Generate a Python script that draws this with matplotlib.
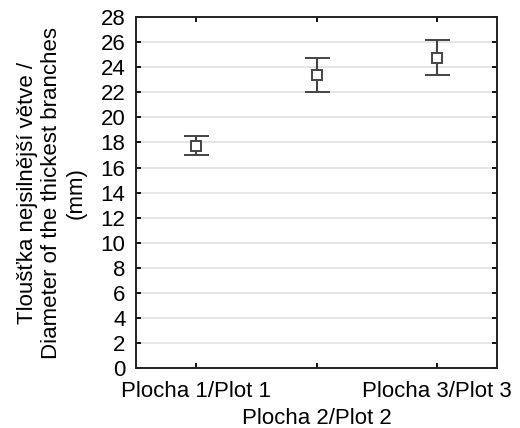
import matplotlib
matplotlib.use("Agg")
import matplotlib.pyplot as plt
import numpy as np

plt.rcParams['font.family'] = ['Liberation Sans', 'DejaVu Sans']

categories = ["Plocha 1/Plot 1", "Plocha 2/Plot 2", "Plocha 3/Plot 3"]
means = [17.75, 23.35, 24.75]
upper = [18.55, 24.7, 26.2]
lower = [17.0, 22.0, 23.35]
yticks = list(range(0, 29, 2))

fig = plt.figure(figsize=(5.2, 4.28), dpi=100)
ax = fig.add_axes([0.2615, 0.14, 0.6945, 0.82])

x = np.arange(1, len(categories) + 1)
m = np.array(means)
err = [m - np.array(lower), np.array(upper) - m]
ax.errorbar(x, m, yerr=err, fmt='s', color='#444444', mfc='white', mec='#444444',
            ms=7.5, mew=1.4, ecolor='#444444', elinewidth=1.5, capsize=9, capthick=1.5,
            zorder=3)

ax.set_xlim(0.5, 3.5)
ax.set_ylim(0, 28)
ax.set_yticks(yticks)
ax.set_yticklabels([str(t) for t in yticks], fontsize=16)
ax.yaxis.grid(True, color='#e0e0e0', lw=1.2, zorder=0)
ax.set_axisbelow(True)
ax.set_xticks(x)
ax.set_xticklabels([])
for i, (xi, lab) in enumerate(zip(x, categories)):
    off = -0.113 if i % 2 == 1 else -0.036
    ax.text(xi, off, lab, transform=ax.get_xaxis_transform(), ha='center', va='top',
            fontsize=16, color='black')
ax.tick_params(direction='in', top=True, right=True, length=3.5, width=1.3)
ax.tick_params(axis='y', pad=7.5)
for s in ax.spines.values():
    s.set_linewidth(1.4)
    s.set_color('#222222')

ax.set_ylabel("Tloušťka nejsilnější větve /\nDiameter of the thickest branches\n(mm)",
              fontsize=16, labelpad=10, linespacing=1.22)

fig.savefig("out.png", dpi=100)
